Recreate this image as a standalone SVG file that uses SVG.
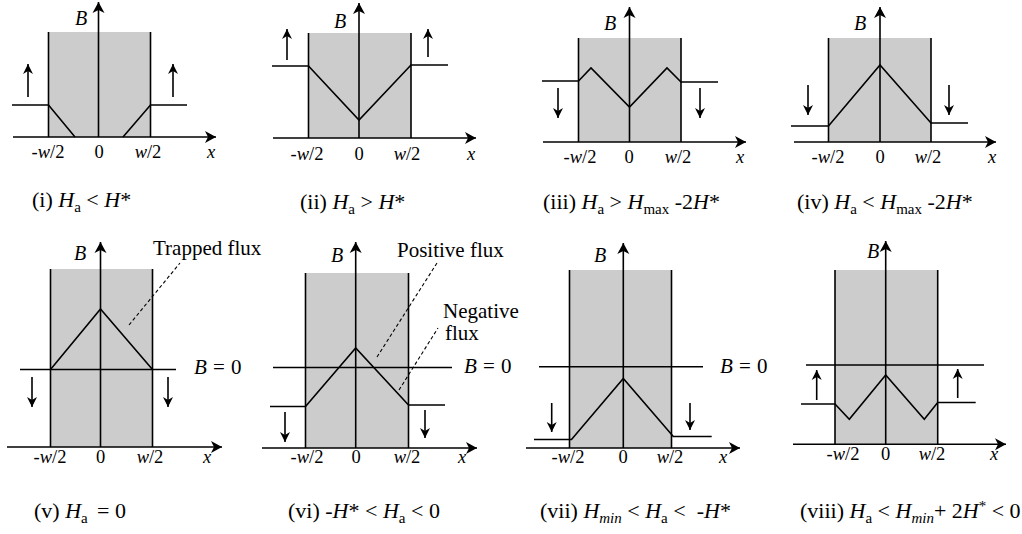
<svg xmlns="http://www.w3.org/2000/svg" width="1022" height="534" viewBox="0 0 1022 534">
<style>
  .bg{fill:#ffffff}
  .sc{fill:#cccccc;stroke:none}
  .ln{fill:none;stroke:#000;stroke-width:1.6}
  .ax{fill:none;stroke:#000;stroke-width:1.6;marker-end:url(#ah)}
  .ar{fill:none;stroke:#000;stroke-width:1.6;marker-end:url(#sa)}
  .ds{fill:none;stroke:#000;stroke-width:1.1;stroke-dasharray:3.5,2.5}
  text{font-family:"Liberation Serif","Times New Roman",serif;fill:#000}
  .lb{font-size:20px;font-style:italic}
  .tk{font-size:18.5px;text-anchor:middle}
  .cp{font-size:22px}
  .tx{font-size:21px}
  .i{font-style:italic}
  .sb{font-size:15px}
</style>
<defs>
  <marker id="ah" viewBox="-13 -8 15 16" markerWidth="15" markerHeight="16" refX="0" refY="0" orient="auto" markerUnits="userSpaceOnUse">
    <path d="M0,0 L-11,-6 L-8,0 L-11,6 Z" fill="#000"/>
  </marker>
  <marker id="sa" viewBox="-11 -6 13 12" markerWidth="13" markerHeight="12" refX="0" refY="0" orient="auto" markerUnits="userSpaceOnUse">
    <path d="M0,0 L-10,-5 L-7,0 L-10,5 Z" fill="#000"/>
  </marker>
</defs>
<rect class="bg" x="0" y="0" width="1022" height="534"/>

<!-- (i) -->
<g id="panel-i">
  <rect class="sc" x="48.5" y="32" width="102" height="105"/>
  <line class="ln" x1="48.5" y1="32" x2="48.5" y2="137"/>
  <line class="ln" x1="150.5" y1="32" x2="150.5" y2="137"/>
  <line class="ax" x1="13" y1="137" x2="216" y2="137"/>
  <line class="ax" x1="98.5" y1="137" x2="98.5" y2="2"/>
  <polyline class="ln" points="12,105 48.5,105 75,137"/>
  <polyline class="ln" points="123,137 150.5,105 187,105"/>
  <line class="ar" x1="28" y1="97" x2="28" y2="64"/>
  <line class="ar" x1="173" y1="97" x2="173" y2="64"/>
  <text class="lb" x="81" y="25" text-anchor="middle">B</text>
  <text class="tk" x="48" y="158">-<tspan class="i">w</tspan>/2</text>
  <text class="tk" x="99" y="158">0</text>
  <text class="tk" x="148" y="158"><tspan class="i">w</tspan>/2</text>
  <text class="tk i" x="211" y="158">x</text>
  <text class="cp" x="32" y="207">(i) <tspan class="i">H</tspan><tspan class="sb" dy="5">a</tspan><tspan dy="-5"> &lt; </tspan><tspan class="i">H</tspan>*</text>
</g>

<!-- (ii) -->
<g id="panel-ii">
  <rect class="sc" x="308.5" y="33" width="102.5" height="105"/>
  <line class="ln" x1="308.5" y1="33" x2="308.5" y2="138"/>
  <line class="ln" x1="411" y1="33" x2="411" y2="138"/>
  <line class="ax" x1="273" y1="138" x2="476" y2="138"/>
  <line class="ax" x1="359" y1="138" x2="359" y2="3"/>
  <polyline class="ln" points="272,66 308.5,66 359,120 411,65 448,65"/>
  <line class="ar" x1="287" y1="60" x2="287" y2="29"/>
  <line class="ar" x1="428" y1="57" x2="428" y2="29"/>
  <text class="lb" x="340" y="28" text-anchor="middle">B</text>
  <text class="tk" x="307" y="160">-<tspan class="i">w</tspan>/2</text>
  <text class="tk" x="359" y="160">0</text>
  <text class="tk" x="407" y="160"><tspan class="i">w</tspan>/2</text>
  <text class="tk i" x="471" y="160">x</text>
  <text class="cp" x="300" y="209">(ii) <tspan class="i">H</tspan><tspan class="sb" dy="5">a</tspan><tspan dy="-5"> &gt; </tspan><tspan class="i">H</tspan>*</text>
</g>

<!-- (iii) -->
<g id="panel-iii">
  <rect class="sc" x="578.5" y="38" width="102.5" height="104"/>
  <line class="ln" x1="578.5" y1="38" x2="578.5" y2="142"/>
  <line class="ln" x1="681" y1="38" x2="681" y2="142"/>
  <line class="ax" x1="543" y1="142" x2="746" y2="142"/>
  <line class="ax" x1="629.5" y1="142" x2="629.5" y2="7"/>
  <polyline class="ln" points="542,81 578.5,81 591,68 629.5,107 667,68 681,82 718,82"/>
  <line class="ar" x1="558" y1="88" x2="558" y2="118"/>
  <line class="ar" x1="700" y1="88" x2="700" y2="118"/>
  <text class="lb" x="610" y="30" text-anchor="middle">B</text>
  <text class="tk" x="580" y="163">-<tspan class="i">w</tspan>/2</text>
  <text class="tk" x="629" y="163">0</text>
  <text class="tk" x="678" y="163"><tspan class="i">w</tspan>/2</text>
  <text class="tk i" x="740" y="163">x</text>
  <text class="cp" x="543" y="209">(iii) <tspan class="i">H</tspan><tspan class="sb" dy="5">a</tspan><tspan dy="-5"> &gt; </tspan><tspan class="i">H</tspan><tspan class="sb" dy="5">max</tspan><tspan dy="-5"> -2</tspan><tspan class="i">H</tspan>*</text>
</g>

<!-- (iv) -->
<g id="panel-iv">
  <rect class="sc" x="828.5" y="38" width="102.5" height="104"/>
  <line class="ln" x1="828.5" y1="38" x2="828.5" y2="142"/>
  <line class="ln" x1="931" y1="38" x2="931" y2="142"/>
  <line class="ax" x1="794" y1="142" x2="996" y2="142"/>
  <line class="ax" x1="880" y1="142" x2="880" y2="7"/>
  <polyline class="ln" points="791,126 828.5,126 880,65 931,123 968,123"/>
  <line class="ar" x1="808" y1="85" x2="808" y2="115"/>
  <line class="ar" x1="949" y1="85" x2="949" y2="115"/>
  <text class="lb" x="860" y="30" text-anchor="middle">B</text>
  <text class="tk" x="828" y="163">-<tspan class="i">w</tspan>/2</text>
  <text class="tk" x="880" y="163">0</text>
  <text class="tk" x="928" y="163"><tspan class="i">w</tspan>/2</text>
  <text class="tk i" x="992" y="163">x</text>
  <text class="cp" x="797" y="209">(iv) <tspan class="i">H</tspan><tspan class="sb" dy="5">a</tspan><tspan dy="-5"> &lt; </tspan><tspan class="i">H</tspan><tspan class="sb" dy="5">max</tspan><tspan dy="-5"> -2</tspan><tspan class="i">H</tspan>*</text>
</g>

<!-- (v) -->
<g id="panel-v">
  <rect class="sc" x="50.5" y="269" width="102" height="178"/>
  <line class="ln" x1="50.5" y1="269" x2="50.5" y2="447"/>
  <line class="ln" x1="152.5" y1="269" x2="152.5" y2="447"/>
  <line class="ax" x1="7" y1="447" x2="222" y2="447"/>
  <line class="ax" x1="100.5" y1="447" x2="100.5" y2="242"/>
  <line class="ln" x1="20" y1="369.5" x2="176" y2="369.5"/>
  <polyline class="ln" points="50.5,369.5 100.5,309 152.5,369.5"/>
  <line class="ds" x1="129" y1="325" x2="180" y2="263"/>
  <line class="ar" x1="32" y1="377" x2="32" y2="407"/>
  <line class="ar" x1="168" y1="377" x2="168" y2="407"/>
  <text class="tx" x="153" y="255">Trapped flux</text>
  <text class="tx" y="374"><tspan class="i" x="194">B</tspan><tspan x="213">=</tspan><tspan x="231">0</tspan></text>
  <text class="lb" x="80" y="260" text-anchor="middle">B</text>
  <text class="tk" x="50" y="463">-<tspan class="i">w</tspan>/2</text>
  <text class="tk" x="100.5" y="463">0</text>
  <text class="tk" x="150" y="463"><tspan class="i">w</tspan>/2</text>
  <text class="tk i" x="207" y="463">x</text>
  <text class="cp" y="518"><tspan x="34">(v) </tspan><tspan class="i">H</tspan><tspan class="sb" dy="5">a</tspan><tspan dy="-5" x="97">=</tspan><tspan x="115">0</tspan></text>
</g>

<!-- (vi) -->
<g id="panel-vi">
  <rect class="sc" x="305.5" y="273" width="103" height="175"/>
  <line class="ln" x1="305.5" y1="273" x2="305.5" y2="448"/>
  <line class="ln" x1="408.5" y1="273" x2="408.5" y2="448"/>
  <line class="ax" x1="262" y1="448" x2="477" y2="448"/>
  <line class="ax" x1="355.7" y1="448" x2="355.7" y2="242"/>
  <line class="ln" x1="273" y1="367.5" x2="452" y2="367.5"/>
  <polyline class="ln" points="270,406.5 305.5,406.5 355.7,348 408.5,405 445,405"/>
  <line class="ds" x1="377" y1="357" x2="437" y2="263"/>
  <line class="ds" x1="399" y1="390" x2="438" y2="328"/>
  <line class="ar" x1="285" y1="412" x2="285" y2="442"/>
  <line class="ar" x1="425" y1="410" x2="425" y2="438"/>
  <text class="tx" x="397" y="257">Positive flux</text>
  <text class="tx" x="443" y="318">Negative</text>
  <text class="tx" x="445" y="340">flux</text>
  <text class="tx" y="373"><tspan class="i" x="464">B</tspan><tspan x="483">=</tspan><tspan x="501">0</tspan></text>
  <text class="lb" x="337" y="262" text-anchor="middle">B</text>
  <text class="tk" x="307" y="463">-<tspan class="i">w</tspan>/2</text>
  <text class="tk" x="356" y="463">0</text>
  <text class="tk" x="407" y="463"><tspan class="i">w</tspan>/2</text>
  <text class="tk i" x="462" y="463">x</text>
  <text class="cp" x="288" y="518">(vi) -<tspan class="i">H</tspan>* &lt; <tspan class="i">H</tspan><tspan class="sb" dy="5">a</tspan><tspan dy="-5"> &lt; 0</tspan></text>
</g>

<!-- (vii) -->
<g id="panel-vii">
  <rect class="sc" x="569.5" y="270" width="102" height="178"/>
  <line class="ln" x1="569.5" y1="270" x2="569.5" y2="448"/>
  <line class="ln" x1="671.5" y1="270" x2="671.5" y2="448"/>
  <line class="ax" x1="526" y1="448" x2="740" y2="448"/>
  <line class="ax" x1="623.3" y1="448" x2="623.3" y2="243"/>
  <line class="ln" x1="539" y1="366.7" x2="703" y2="366.7"/>
  <polyline class="ln" points="534,439.5 571.5,439.5 623.3,378.5 673.3,436.5 711.7,436.5"/>
  <line class="ar" x1="551.7" y1="403" x2="551.7" y2="432"/>
  <line class="ar" x1="690" y1="403" x2="690" y2="430"/>
  <text class="tx" y="373"><tspan class="i" x="720">B</tspan><tspan x="739">=</tspan><tspan x="757">0</tspan></text>
  <text class="lb" x="600" y="262" text-anchor="middle">B</text>
  <text class="tk" x="568" y="463">-<tspan class="i">w</tspan>/2</text>
  <text class="tk" x="623" y="463">0</text>
  <text class="tk" x="670" y="463"><tspan class="i">w</tspan>/2</text>
  <text class="tk i" x="723" y="463">x</text>
  <text class="cp" x="540" y="518">(vii) <tspan class="i">H</tspan><tspan class="i sb" dy="5">min</tspan><tspan dy="-5"> &lt; </tspan><tspan class="i">H</tspan><tspan class="sb" dy="5">a</tspan><tspan dy="-5" xml:space="preserve"> &lt;  -</tspan><tspan class="i">H</tspan>*</text>
</g>

<!-- (viii) -->
<g id="panel-viii">
  <rect class="sc" x="835" y="270" width="102.7" height="174.3"/>
  <line class="ln" x1="835" y1="270" x2="835" y2="444.3"/>
  <line class="ln" x1="937.7" y1="270" x2="937.7" y2="444.3"/>
  <line class="ax" x1="793" y1="444.3" x2="1006" y2="444.3"/>
  <line class="ax" x1="885.7" y1="444.3" x2="885.7" y2="241"/>
  <line class="ln" x1="806" y1="365" x2="984" y2="365"/>
  <polyline class="ln" points="801,404 835,404 849.3,419.3 885.7,375 924.3,419.3 937.7,402.5 975.7,402.5"/>
  <line class="ar" x1="816.7" y1="400" x2="816.7" y2="370"/>
  <line class="ar" x1="957.7" y1="398" x2="957.7" y2="369"/>
  <text class="lb" x="873" y="258" text-anchor="middle">B</text>
  <text class="tk" x="843" y="460">-<tspan class="i">w</tspan>/2</text>
  <text class="tk" x="885.5" y="460">0</text>
  <text class="tk" x="932" y="460"><tspan class="i">w</tspan>/2</text>
  <text class="tk i" x="994" y="460">x</text>
  <text class="cp" x="800" y="518">(viii) <tspan class="i">H</tspan><tspan class="sb" dy="5">a</tspan><tspan dy="-5"> &lt; </tspan><tspan class="i">H</tspan><tspan class="i sb" dy="5">min</tspan><tspan dy="-5">+ 2</tspan><tspan class="i">H</tspan><tspan class="sb" dy="-7">*</tspan><tspan dy="7"> &lt; 0</tspan></text>
</g>
</svg>
